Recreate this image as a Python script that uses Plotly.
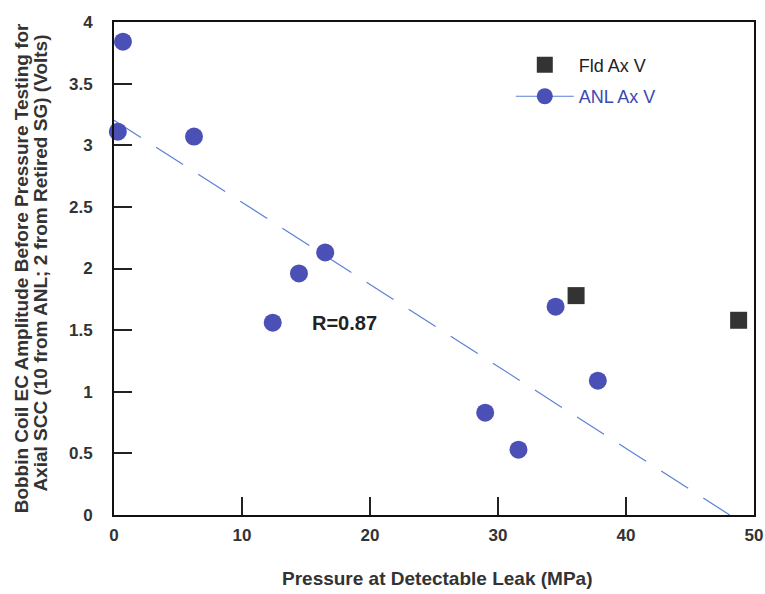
import numpy as np
import plotly.graph_objects as go

# ANL axial SCC specimens
anl_pressure = [0.7, 0.3, 6.25, 16.5, 14.45, 12.4, 34.5, 37.8, 29.0, 31.6]
anl_volts = [3.84, 3.11, 3.07, 2.13, 1.96, 1.56, 1.69, 1.09, 0.83, 0.53]

# field (retired SG) specimens
fld_pressure = [36.1, 48.8]
fld_volts = [1.78, 1.58]

x_ticks = [0, 10, 20, 30, 40, 50]
y_ticks = [0, 0.5, 1, 1.5, 2, 2.5, 3, 3.5, 4]

# linear fit through the ANL points
slope, icpt = np.polyfit(anl_pressure, anl_volts, 1)
r = abs(np.corrcoef(anl_pressure, anl_volts)[0, 1])
fit_x = np.array([0.0, -icpt / slope])
fit_y = slope * fit_x + icpt

font = "Liberation Sans, Arial, sans-serif"
blue = "#4a50b6"

fig = go.Figure()

fig.add_trace(go.Scatter(
    x=fit_x, y=fit_y, mode="lines",
    line=dict(color="#5b80d6", width=1.2, dash="32px,18px"),
    showlegend=False, hoverinfo="skip"
))

fig.add_trace(go.Scatter(
    x=fld_pressure, y=fld_volts, mode="markers",
    name="Fld Ax V", legendgroup="a",
    marker=dict(symbol="square", size=17, color="#333333"),
    cliponaxis=False
))

fig.add_trace(go.Scatter(
    x=anl_pressure, y=anl_volts, mode="markers",
    showlegend=False,
    marker=dict(symbol="circle", size=18, color=blue),
    cliponaxis=False
))

# legend-only entry (line + circle, as in the original key)
fig.add_trace(go.Scatter(
    x=[None], y=[None], mode="lines+markers",
    name="<span style='color:#3a48b0'>ANL Ax V</span>", legendgroup="b",
    line=dict(color="#5b80d6", width=1),
    marker=dict(symbol="circle", size=17, color=blue)
))

fig.add_annotation(
    x=15.3, y=1.56, xanchor="left", yanchor="middle",
    text=f"R={r:.2f}", showarrow=False,
    font=dict(family=font, size=20, color="#222222", weight="bold")
)

title_font = dict(family=font, size=19, color="#333333", weight="bold")

fig.add_annotation(
    xref="paper", yref="paper", x=0.505, y=-0.128,
    xanchor="center", yanchor="middle", showarrow=False,
    text="Pressure at Detectable Leak (MPa)", font=title_font
)
fig.add_annotation(
    xref="paper", yref="paper", x=-0.144, y=0.5,
    xanchor="center", yanchor="middle", showarrow=False, textangle=-90,
    text="Bobbin Coil EC Amplitude Before Pressure Testing for", font=title_font
)
fig.add_annotation(
    xref="paper", yref="paper", x=-0.114, y=0.51,
    xanchor="center", yanchor="middle", showarrow=False, textangle=-90,
    text="Axial SCC (10 from ANL; 2 from Retired SG) (Volts)", font=title_font
)

axis_common = dict(
    showgrid=False, zeroline=False, automargin=False,
    showline=True, linecolor="#111111", linewidth=2, mirror=True,
    ticks="inside", ticklen=18, tickwidth=2, tickcolor="#222222",
    tickfont=dict(family=font, size=17, color="#333333", weight="bold"),
)

fig.update_layout(
    width=765, height=594,
    margin=dict(l=114, r=11, t=22, b=79),
    paper_bgcolor="white", plot_bgcolor="white",
    xaxis=dict(range=[0, 50], tickvals=x_ticks, ticklabelstandoff=4, **axis_common),
    yaxis=dict(range=[0, 4], tickvals=y_ticks, ticklabelstandoff=16, **axis_common),
    legend=dict(
        x=0.62, y=0.95, xanchor="left", yanchor="top",
        bgcolor="rgba(0,0,0,0)", tracegroupgap=5, itemwidth=58,
        font=dict(family=font, size=18, color="#222222")
    ),
)

# drop the default 8px page margin so the figure fills the window exactly
fig.write_html(
    "out.html",
    config={"displayModeBar": False},
    post_script="document.body.style.margin='0';"
                "document.documentElement.style.overflow='hidden';"
)
